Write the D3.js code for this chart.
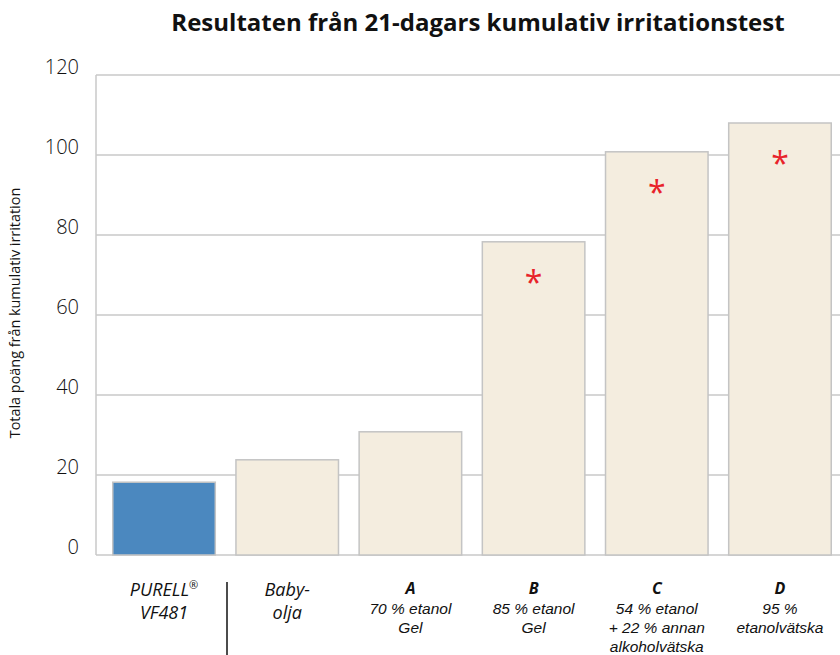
<!DOCTYPE html>
<html><head><meta charset="utf-8">
<script src="https://cdn.jsdelivr.net/npm/d3@7"></script>
<style>
body{margin:0;background:#fff;}
svg{display:block;font-family:"Open Sans","Noto Sans",sans-serif;}
</style></head>
<body>
<svg id="chart" width="840" height="655"></svg>
<script>
const title = "Resultaten från 21-dagars kumulativ irritationstest";
const yAxisLabel = "Totala poäng från kumulativ irritation";
const categories = ["PURELL", "Baby-olja", "A", "B", "C", "D"];
const values = [18.2, 23.8, 30.8, 78.3, 100.8, 108];
const significant = [false, false, false, true, true, true];
const labelMain = [["PURELL", "VF481"], ["Baby-", "olja"], ["A"], ["B"], ["C"], ["D"]];
const labelSub = [[], [], ["70 % etanol", "Gel"], ["85 % etanol", "Gel"], ["54 % etanol", "+ 22 % annan", "alkoholvätska"], ["95 %", "etanolvätska"]];
const yTicks = [0, 20, 40, 60, 80, 100, 120];

const svg = d3.select("#chart");
const x = d3.scaleBand().domain(categories).range([96, 848]).paddingInner(0.1555).paddingOuter(0.13);
const y = d3.scaleLinear().domain([0, 120]).range([555, 75]);

const grid = "#c9c9c9";
svg.append("g").selectAll("line").data(yTicks).join("line")
  .attr("x1", 96).attr("x2", 840)
  .attr("y1", d => y(d)).attr("y2", d => y(d))
  .attr("stroke", grid).attr("stroke-width", 1.5);
svg.append("line").attr("x1", 96).attr("x2", 96).attr("y1", y(120)).attr("y2", y(0))
  .attr("stroke", grid).attr("stroke-width", 1.5);
svg.append("g").selectAll("text").data(yTicks).join("text")
  .attr("x", 79).attr("y", d => y(d) - 1)
  .attr("text-anchor", "end").attr("font-size", 20).attr("font-weight", 300)
  .attr("fill", "#111").text(d => d);

svg.append("g").selectAll("rect").data(values).join("rect")
  .attr("x", (d, i) => x(categories[i]) + 0.75)
  .attr("width", x.bandwidth() - 1.5)
  .attr("y", d => y(d))
  .attr("height", d => y(0) - y(d))
  .attr("fill", (d, i) => i === 0 ? "#4b88bf" : "#f4eddf")
  .attr("stroke", "#c4c4c4").attr("stroke-width", 1.5);

svg.append("g").selectAll("text").data(values.map((v, i) => ({v, i})).filter(d => significant[d.i])).join("text")
  .attr("x", d => x(categories[d.i]) + x.bandwidth() / 2)
  .attr("y", d => y(d.v) + 52)
  .attr("text-anchor", "middle").attr("font-size", 32).attr("font-weight", 400)
  .attr("fill", "#e8232a").text("*");

const lab = svg.append("g");
categories.forEach((c, i) => {
  const cx = x(c) + x.bandwidth() / 2;
  const big = i < 2;
  labelMain[i].forEach((t, j) => {
    const tx = lab.append("text").attr("x", cx).attr("y", (big ? 596 : 594) + j * 23)
      .attr("text-anchor", "middle").attr("font-style", "italic")
      .attr("font-size", big ? 18 : 16).attr("font-weight", big ? 400 : 700)
      .attr("fill", "#111").text(t);
    if (i === 0 && j === 0) {
      tx.append("tspan").attr("font-size", 11).attr("dy", -7).text("®");
    }
  });
  labelSub[i].forEach((t, j) => {
    lab.append("text").attr("x", cx).attr("y", 614 + j * 18.8)
      .attr("text-anchor", "middle").attr("font-style", "italic")
      .attr("font-family", "'Liberation Sans', Arial, sans-serif")
      .attr("font-size", 15.5).attr("fill", "#111").text(t);
  });
});
svg.append("line").attr("x1", 227).attr("x2", 227).attr("y1", 582).attr("y2", 655)
  .attr("stroke", "#111").attr("stroke-width", 1.5);

svg.append("text").attr("x", 478).attr("y", 31).attr("text-anchor", "middle")
  .attr("font-size", 24).attr("font-weight", 700).attr("fill", "#111").text(title);

svg.append("text").attr("transform", "translate(20,313) rotate(-90)")
  .attr("text-anchor", "middle").attr("font-size", 14.4).attr("fill", "#111").text(yAxisLabel);
</script>
</body></html>
